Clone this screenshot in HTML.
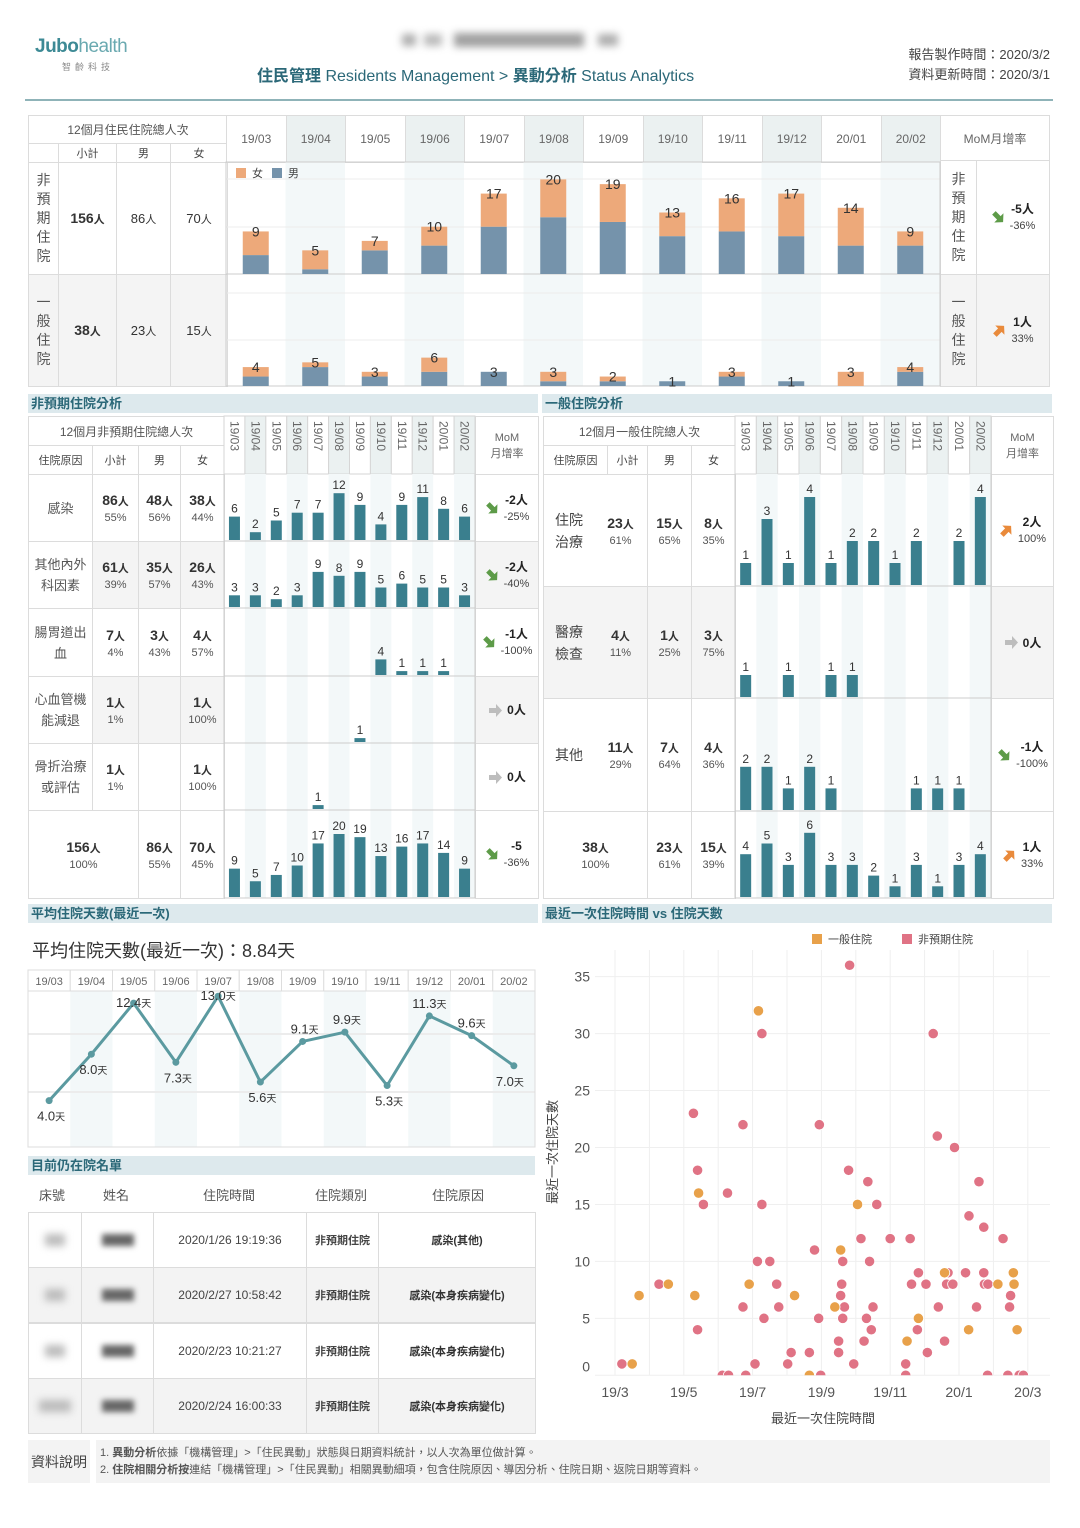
<!DOCTYPE html>
<html><head><meta charset="utf-8">
<style>
body{margin:0;width:1080px;height:1528px;position:relative;background:#fff;font-family:"Liberation Sans","Noto Sans CJK TC",sans-serif;color:#444;overflow:hidden}
.c{display:flex;align-items:center;justify-content:center;flex-direction:column;text-align:center;border:1px solid #dcdcdc;}
.sec{position:absolute;height:19px;background:#dde9ed;color:#2b6878;font-weight:bold;font-size:13px;line-height:19px;padding-left:3px;box-sizing:border-box}
b.v{font-size:13px;color:#333}
.p{font-size:11px;color:#555}
</style></head>
<body>
<div>
  <div style="position:absolute;left:35px;top:36px;font-size:19px;color:#3d8a95;letter-spacing:-0.5px"><b>Jubo</b><span style="font-weight:normal;color:#6aa9b0">health</span></div>
  <div style="position:absolute;left:62px;top:60px;font-size:9px;color:#888;letter-spacing:4px">智齡科技</div>
  <div style="position:absolute;left:402px;top:32px;width:224px;height:16px;filter:blur(4px);opacity:0.8">
    <div style="position:absolute;left:0;top:2px;width:14px;height:12px;background:#999"></div>
    <div style="position:absolute;left:22px;top:2px;width:18px;height:12px;background:#aaa"></div>
    <div style="position:absolute;left:52px;top:1px;width:130px;height:14px;background:#888"></div>
    <div style="position:absolute;left:196px;top:2px;width:20px;height:12px;background:#999"></div>
  </div>
  <div style="position:absolute;left:257px;top:62px;font-size:16px;color:#2b6878"><b>住民管理</b> Residents Management &gt; <b>異動分析</b> Status Analytics</div>
  <div style="position:absolute;right:30px;top:45px;font-size:13px;color:#444;text-align:right;line-height:20px">報告製作時間：2020/3/2<br>資料更新時間：2020/3/1</div>
  <div style="position:absolute;left:25px;top:99px;width:1028px;height:2px;background:#8fb3b8"></div>
</div>

<div class="sec" style="left:28px;top:394px;width:510px">非預期住院分析</div>
<div class="sec" style="left:542px;top:394px;width:510px">一般住院分析</div>
<div class="sec" style="left:28px;top:904px;width:510px">平均住院天數(最近一次)</div>
<div class="sec" style="left:542px;top:904px;width:510px">最近一次住院時間 vs 住院天數</div>
<div class="sec" style="left:28px;top:1156px;width:507px">目前仍在院名單</div>
<div style="position:absolute;left:32px;top:937px;font-size:18px;color:#333">平均住院天數(最近一次)：8.84天</div>

<div style="position:absolute;left:28px;top:1440px;width:62px;height:43px;background:#f3f3f3;font-size:14px;color:#444;display:flex;align-items:center;justify-content:center">資料說明</div>
<div style="position:absolute;left:96px;top:1440px;width:954px;height:43px;background:#f3f3f3;font-size:11px;color:#555;line-height:17px;padding:5px 4px;box-sizing:border-box">1. <b>異動分析</b>依據「機構管理」>「住民異動」狀態與日期資料統計，以人次為單位做計算。<br>2. <b>住院相關分析按</b>連結「機構管理」>「住民異動」相關異動細項，包含住院原因、導因分析、住院日期、返院日期等資料。</div>

<script>
// ===== DATA =====
const months = ['19/03','19/04','19/05','19/06','19/07','19/08','19/09','19/10','19/11','19/12','20/01','20/02'];
const topUnplanTotal = [9,5,7,10,17,20,19,13,16,17,14,9];
const topUnplanMale  = [4,1,5,6,10,12,11,8,9,8,6,6];
const topGeneralTotal = [4,5,3,6,3,3,2,1,3,1,3,4];
const topGeneralMale  = [2,4,2,3,3,1,1,1,2,1,0,3];

const upInfection = [6,2,5,7,7,12,9,4,9,11,8,6];
const upOther     = [3,3,2,3,9,8,9,5,6,5,5,3];
const upGI        = [0,0,0,0,0,0,0,4,1,1,1,0];
const upCardio    = [0,0,0,0,0,0,1,0,0,0,0,0];
const upFracture  = [0,0,0,0,1,0,0,0,0,0,0,0];
const upTotal     = [9,5,7,10,17,20,19,13,16,17,14,9];

const gTreat = [1,3,1,4,1,2,2,1,2,0,2,4];
const gExam  = [1,0,1,0,1,1,0,0,0,0,0,0];
const gOther = [2,2,1,2,1,0,0,0,1,1,1,0];
const gTotal = [4,5,3,6,3,3,2,1,3,1,3,4];

const avgDays = [4.0,8.0,12.4,7.3,13.0,5.6,9.1,9.9,5.3,11.3,9.6,7.0];

const scatterTicksX = ['19/3','19/5','19/7','19/9','19/11','20/1','20/3'];
const scatterTicksY = [0,5,10,15,20,25,30,35];
const unplanT = [0.2,1.28,2.28,2.4,2.4,2.57,3.27,3.12,3.3,3.72,3.72,3.8,4.07,4.14,4.27,4.27,4.33,4.5,4.7,4.76,5.02,5.12,5.65,5.8,5.92,5.94,5.98,6.5,6.5,6.56,6.59,6.62,6.62,6.67,6.79,6.82,6.94,7.15,7.24,7.31,7.35,7.4,7.45,7.5,7.61,8.0,8.45,8.45,8.58,8.62,8.79,8.82,9.04,9.08,9.25,9.37,9.4,9.58,9.64,9.68,9.82,9.87,10.19,10.29,10.51,10.58,10.72,10.72,10.74,10.84,10.83,11.28,11.42,11.47,11.5,11.75,11.87];
const unplanV = [1,8,23,18,4,15,16,0,0,22,6,0,1,10,30,15,5,10,8,6,1,2,2,11,5,22,0,3,2,7,8,10,5,6,18,36,1,12,3,5,17,10,4,6,15,12,1,0,12,8,4,9,8,2,30,21,6,3,8,9,8,20,9,14,6,17,13,9,8,8,0,12,0,6,7,0,0];
const generalT = [0.5,0.7,1.55,2.32,2.43,3.9,4.17,5.22,5.65,6.39,6.56,7.05,8.49,8.82,9.58,10.28,11.13,11.58,11.6,11.69];
const generalV = [1,7,8,7,16,8,32,7,0,6,11,15,3,5,9,4,8,9,8,4];

const listTimes = ['2020/1/26 19:19:36','2020/2/27 10:58:42','2020/2/23 10:21:27','2020/2/24 16:00:33'];
const listTypes = ['非預期住院','非預期住院','非預期住院','非預期住院'];
const listReasons = ['感染(其他)','感染(本身疾病變化)','感染(本身疾病變化)','感染(本身疾病變化)'];

// ===== HELPERS =====
const NS='http://www.w3.org/2000/svg';
function div(x,y,w,h,name,cls,css,html){
  const d=document.createElement('div');
  d.className=cls||'';
  d.style.cssText='position:absolute;left:'+x+'px;top:'+y+'px;width:'+w+'px;height:'+h+'px;box-sizing:border-box;'+(css||'');
  
  
  if(html!=null)d.innerHTML=html;
  document.body.appendChild(d);return d;
}
function cell(x,y,w,h,name,html,css){return div(x,y,w+1,h+1,name,'c',css,html);}
function svg(x,y,w,h,name){
  const s=document.createElementNS(NS,'svg');
  s.setAttribute('width',w);s.setAttribute('height',h);
  s.style.cssText='position:absolute;left:'+x+'px;top:'+y+'px;overflow:visible';
  
  
  document.body.appendChild(s);return s;
}
function el(p,tag,attrs,name,text){
  const e=document.createElementNS(NS,tag);
  for(const k in attrs)e.setAttribute(k,attrs[k]);
  
  
  if(text!=null)e.textContent=text;
  p.appendChild(e);return e;
}
function arrow(dir){
  const rot=dir==='down'?45:dir==='up'?-45:0;
  const col=dir==='down'?'#5d9b48':dir==='up'?'#e98a3b':'#bdbdbd';
  return '<svg width="15" height="15"><path transform="rotate('+rot+' 7.5 7.5)" d="M1,5 H8 V1 L14,7.5 L8,14 V10 H1 Z" fill="'+col+'"/></svg>';
}
function mom(a,b,dir){
  return '<div style="display:flex;align-items:center;gap:4px">'+arrow(dir)+'<div style="text-align:center;line-height:16px"><b style="font-size:12px;color:#222">'+a+'</b>'+(b?'<br><span style="font-size:11px;color:#444">'+b+'</span>':'')+'</div></div>';
}
function vt(s){return '<div style="font-size:14px;line-height:19px;color:#555">'+s.split('').join('<br>')+'</div>';}
function vp(v,p){return '<b class="v" style="font-size:14px">'+v.replace('人','<span style="font-size:11px">人</span>')+'</b>'+(p?'<span class="p" style="margin-top:3px">'+p+'</span>':'');}

// ===== TOP SECTION =====
cell(28,115,199,28,'top-summary-title','<span style="font-size:12px;color:#555">12個月住民住院總人次</span>');
cell(28,143,30,19,'top-blank-header','');
cell(58,143,58,19,'top-subtotal-header','<span style="font-size:11px">小計</span>');
cell(116,143,54,19,'top-male-header','<span style="font-size:11px">男</span>');
cell(170,143,57,19,'top-female-header','<span style="font-size:11px">女</span>');
cell(28,162,30,112,'unplanned-row-label',vt('非預期住院'));
cell(58,162,58,112,'unplanned-subtotal',vp('156人'));
cell(116,162,54,112,'unplanned-male',vp('86人').replace('<b class="v"','<b class="v" style="font-weight:normal"'));
cell(170,162,57,112,'unplanned-female',vp('70人').replace('<b class="v"','<b class="v" style="font-weight:normal"'));
cell(28,274,30,112,'general-row-label',vt('一般住院'),'background:#f4f4f4');
cell(58,274,58,112,'general-subtotal',vp('38人'),'background:#f4f4f4');
cell(116,274,54,112,'general-male',vp('23人').replace('<b class="v"','<b class="v" style="font-weight:normal"'),'background:#f4f4f4');
cell(170,274,57,112,'general-female',vp('15人').replace('<b class="v"','<b class="v" style="font-weight:normal"'),'background:#f4f4f4');
const tcw=714/12;
months.forEach(function(m,i){
  cell(226+i*tcw,115,tcw,47,'top-month-header','<span style="font-size:12px;color:#666">'+m+'</span>',i%2?'background:#ebf1f1':'background:#fff');
});
cell(940,115,109,45,'top-mom-header','<span style="font-size:12px;color:#666">MoM月增率</span>');
cell(940,160,36,114,'top-mom-unplanned-label',vt('非預期住院'));
cell(976,160,73,114,'top-mom-unplanned',mom('-5人','-36%','down'));
cell(940,274,36,112,'top-mom-general-label',vt('一般住院'),'background:#f4f4f4');
cell(976,274,73,112,'top-mom-general',mom('1人','33%','up'),'background:#f4f4f4');

(function(){
  const s=svg(226,162,714,224,'stacked-hospitalization-chart');
  const k=4.73;
  months.forEach(function(m,i){ if(i%2) el(s,'rect',{x:i*tcw,y:0,width:tcw,height:224,fill:'#f3f8f9'},'column-shade'); });
  [17,65,131,178].forEach(function(y){ el(s,'line',{x1:0,x2:714,y1:y,y2:y,stroke:'#ececec'},'gridline'); });
  el(s,'line',{x1:0,x2:714,y1:112,y2:112,stroke:'#ccc'},'row-divider');
  el(s,'rect',{x:0,y:0,width:714,height:224,fill:'none',stroke:'#ccc'},'chart-border');
  el(s,'rect',{x:10,y:6,width:10,height:10,fill:'#eda97a'},'legend-female-swatch');
  el(s,'text',{x:26,y:15,'font-size':11,fill:'#444'},'legend-female-label','女');
  el(s,'rect',{x:46,y:6,width:10,height:10,fill:'#7593ab'},'legend-male-swatch');
  el(s,'text',{x:62,y:15,'font-size':11,fill:'#444'},'legend-male-label','男');
  function draw(tot,male,base,pref){
    tot.forEach(function(t,i){
      const cx=i*tcw+tcw/2;
      el(s,'rect',{x:cx-13,y:base-male[i]*k,width:26,height:male[i]*k,fill:'#7593ab'},pref+'-male-bar');
      el(s,'rect',{x:cx-13,y:base-t*k,width:26,height:(t-male[i])*k,fill:'#eda97a'},pref+'-female-bar');
      el(s,'text',{x:cx,y:base-t*k+5,'font-size':14,'text-anchor':'middle',fill:'#333'},pref+'-total-label',String(t));
    });
  }
  draw(topUnplanTotal,topUnplanMale,112,'unplanned');
  draw(topGeneralTotal,topGeneralMale,224,'general');
})();

// ===== MIDDLE TABLES =====
function monthHeader(x,w,pref){
  const s=svg(x,416,w,58,pref+'-month-header');
  const cw=w/12;
  months.forEach(function(m,i){
    el(s,'rect',{x:i*cw,y:0,width:cw,height:58,fill:i%2?'#ebf1f1':'#fff',stroke:'#d6d6d6'},'month-header-cell');
    el(s,'text',{transform:'translate('+(i*cw+cw/2-4)+',5) rotate(90)','font-size':12,fill:'#666'},'month-header-label',m);
  });
}
function barsSvg(x,w,tops,heights,series,scales,pref){
  const H=tops[tops.length-1]+heights[heights.length-1];
  const s=svg(x,474,w,H,pref+'-bars');
  const cw=w/12;
  months.forEach(function(m,i){ if(i%2) el(s,'rect',{x:i*cw,y:0,width:cw,height:H,fill:'#f3f8f9'},'column-shade'); });
  tops.forEach(function(t,r){ el(s,'line',{x1:0,x2:w,y1:t+heights[r],y2:t+heights[r],stroke:'#ccc'},'row-divider'); });
  el(s,'line',{x1:0,x2:0,y1:0,y2:H,stroke:'#ccc'},'left-border');
  el(s,'line',{x1:w,x2:w,y1:0,y2:H,stroke:'#ccc'},'right-border');
  series.forEach(function(arr,r){
    const base=tops[r]+heights[r]-1;
    arr.forEach(function(v,i){
      if(!v)return;
      const cx=i*cw+cw/2, h=v*scales[r];
      el(s,'rect',{x:cx-5.5,y:base-h,width:11,height:h,fill:'#3a7f8e'},pref+'-bar');
      el(s,'text',{x:cx,y:base-h-4,'font-size':12,'text-anchor':'middle',fill:'#333'},pref+'-bar-label',String(v));
    });
  });
}
cell(28,416,196,29,'unplanned-table-title','<span style="font-size:12px;color:#555">12個月非預期住院總人次</span>');
cell(28,445,64,29,'reason-header','<span style="font-size:11px">住院原因</span>');
cell(92,445,46,29,'subtotal-header','<span style="font-size:11px">小計</span>');
cell(138,445,42,29,'male-header','<span style="font-size:11px">男</span>');
cell(180,445,44,29,'female-header','<span style="font-size:11px">女</span>');
cell(475,416,63,58,'mom-header','<span style="font-size:11px;color:#666;line-height:16px">MoM<br>月增率</span>');
monthHeader(224,251,'unplanned');
const upRows=[
 ['感染','86人','55%','48人','56%','38人','44%','-2人','-25%','down'],
 ['其他內外<br>科因素','61人','39%','35人','57%','26人','43%','-2人','-40%','down'],
 ['腸胃道出<br>血','7人','4%','3人','43%','4人','57%','-1人','-100%','down'],
 ['心血管機<br>能減退','1人','1%','','','1人','100%','0人','','flat'],
 ['骨折治療<br>或評估','1人','1%','','','1人','100%','0人','','flat']];
const upTops=[0,67,134,202,269,336], upH=[67,67,68,67,67,88];
upRows.forEach(function(r,i){
  const y=474+upTops[i], h=upH[i], bg=i%2?'background:#f4f4f4':'';
  cell(28,y,64,h,'unplanned-reason','<span style="font-size:13px;color:#555;line-height:21px">'+r[0]+'</span>');
  cell(92,y,46,h,'unplanned-reason-subtotal',vp(r[1],r[2]),bg);
  cell(138,y,42,h,'unplanned-reason-male',r[3]?vp(r[3],r[4]):'',bg);
  cell(180,y,44,h,'unplanned-reason-female',vp(r[5],r[6]),bg);
  cell(475,y,63,h,'unplanned-reason-mom',mom(r[7],r[8],r[9]),bg);
});
cell(28,810,110,88,'unplanned-total-subtotal',vp('156人','100%'));
cell(138,810,42,88,'unplanned-total-male',vp('86人','55%'));
cell(180,810,44,88,'unplanned-total-female',vp('70人','45%'));
cell(475,810,63,88,'unplanned-total-mom',mom('-5','-36%','down'));
barsSvg(224,251,upTops,upH,[upInfection,upOther,upGI,upCardio,upFracture,upTotal],[3.9,3.9,3.9,3.9,3.9,3.15],'unplanned');

cell(543,416,192,29,'general-table-title','<span style="font-size:12px;color:#555">12個月一般住院總人次</span>');
cell(543,445,64,29,'general-reason-header','<span style="font-size:11px">住院原因</span>');
cell(607,445,40,29,'general-subtotal-header','<span style="font-size:11px">小計</span>');
cell(647,445,44,29,'general-male-header','<span style="font-size:11px">男</span>');
cell(691,445,44,29,'general-female-header','<span style="font-size:11px">女</span>');
cell(991,416,62,58,'general-mom-header','<span style="font-size:11px;color:#666;line-height:16px">MoM<br>月增率</span>');
monthHeader(735,256,'general');
const gRows=[
 ['住院<br>治療','23人','61%','15人','65%','8人','35%','2人','100%','up'],
 ['醫療<br>檢查','4人','11%','1人','25%','3人','75%','0人','','flat'],
 ['其他','11人','29%','7人','64%','4人','36%','-1人','-100%','down']];
const gTops=[0,112,224,337], gH=[112,112,113,87];
gRows.forEach(function(r,i){
  const y=474+gTops[i], h=gH[i], bg=i%2?'background:#f4f4f4':'';
  cell(543,y,104,h,'general-reason','<div style="display:flex;width:100%;align-items:center"><span style="font-size:14px;color:#444;line-height:22px;width:50px;text-align:center">'+r[0]+'</span><div style="flex:1;display:flex;flex-direction:column;align-items:center">'+vp(r[1],r[2])+'</div></div>',bg);
  cell(647,y,44,h,'general-reason-male',vp(r[3],r[4]),bg);
  cell(691,y,44,h,'general-reason-female',vp(r[5],r[6]),bg);
  cell(991,y,62,h,'general-reason-mom',mom(r[7],r[8],r[9]),bg);
});
cell(543,811,104,87,'general-total-subtotal',vp('38人','100%'));
cell(647,811,44,87,'general-total-male',vp('23人','61%'));
cell(691,811,44,87,'general-total-female',vp('15人','39%'));
cell(991,811,62,87,'general-total-mom',mom('1人','33%','up'));
barsSvg(735,256,gTops,gH,[gTreat,gExam,gOther,gTotal],[22,22,21.6,10.7],'general');

// ===== LINE CHART =====
(function(){
  const s=svg(28,970,507,177,'avg-days-line-chart');
  const cw=507/12;
  function yv(v){return 177-11.6*v;}
  function xi(i){return i*cw+cw/2;}
  months.forEach(function(m,i){
    if(i%2) el(s,'rect',{x:i*cw,y:21,width:cw,height:156,fill:'#f3f8f9'},'column-shade');
    el(s,'rect',{x:i*cw,y:0,width:cw,height:21,fill:'#fff',stroke:'#ddd'},'month-header-cell');
    el(s,'text',{x:xi(i),y:15,'font-size':11,'text-anchor':'middle',fill:'#666'},'month-label',m);
  });
  [64,122].forEach(function(y){el(s,'line',{x1:0,x2:507,y1:y,y2:y,stroke:'#ececec','stroke-width':2},'gridline');});
  el(s,'rect',{x:0,y:0,width:507,height:177,fill:'none',stroke:'#ddd'},'chart-border');
  const lblDy=[20,20,4,20,4,20,-8,-8,20,-8,-8,20];
  const lblDx=[2,2,0,2,0,2,2,2,2,0,0,-4];
  let d='';
  avgDays.forEach(function(v,i){d+=(i?'L':'M')+xi(i)+','+yv(v);});
  el(s,'path',{d:d,fill:'none',stroke:'#5b9aa0','stroke-width':3,'stroke-linejoin':'round'},'avg-days-line');
  avgDays.forEach(function(v,i){
    el(s,'circle',{cx:xi(i),cy:yv(v),r:3.5,fill:'#5b9aa0'},'avg-days-point');
    const t=el(s,'text',{x:xi(i)+lblDx[i],y:yv(v)+lblDy[i],'font-size':13,'text-anchor':'middle',fill:'#333'},'avg-days-label',v.toFixed(1));
    const sp=document.createElementNS(NS,'tspan');sp.setAttribute('font-size','10');sp.textContent='天';
    
    
    t.appendChild(sp);
  });
})();

// ===== INPATIENT LIST =====
[['床號',52],['姓名',116],['住院時間',229],['住院類別',341],['住院原因',458]].forEach(function(h){
  div(h[1]-40,1185,80,20,'list-column-header','','font-size:13px;color:#555;text-align:center',h[0]);
});
listTimes.forEach(function(t,i){
  const y=1212+i*55.3, bg=i%2?'background:#f3f3f3':'background:#fff';
  cell(28,y,53,55,'bed-number','<div style="width:'+(i===3?32:20)+'px;height:12px;background:#bbb;filter:blur(4px)"></div>',bg);
  cell(81,y,72,55,'resident-name','<div style="width:32px;height:12px;background:#666;filter:blur(3px)"></div>',bg);
  cell(153,y,153,55,'admission-time','<span style="font-size:12px;color:#444">'+t+'</span>',bg);
  cell(306,y,72,55,'admission-type','<b style="font-size:11px;color:#444">'+listTypes[i]+'</b>',bg);
  cell(378,y,157,55,'admission-reason','<b style="font-size:11px;color:#333">'+listReasons[i]+'</b>',bg);
});

// ===== SCATTER =====
(function(){
  const s=svg(540,920,540,520,'scatter-chart');
  function xs(t){return 75+t*34.4;}
  function ys(v){return 455.3-11.39*v;}
  const cp=el(s,'clipPath',{id:'clipSc'},'clip');
  el(cp,'rect',{x:55,y:20,width:455,height:435.3},'clip-rect');
  for(let m=-1;m<=13;m++){ const x=xs(m); if(x>55&&x<510) el(s,'line',{x1:x,x2:x,y1:30,y2:455,stroke:'#efefef'},'v-gridline'); }
  scatterTicksY.forEach(function(v){
    el(s,'line',{x1:55,x2:510,y1:ys(v),y2:ys(v),stroke:'#efefef'},'h-gridline');
    el(s,'text',{x:50,y:ys(v)+(v===0?-4:5),'font-size':14,'text-anchor':'end',fill:'#555'},'y-tick-label',String(v));
  });
  scatterTicksX.forEach(function(l,i){
    el(s,'text',{x:xs(i*2),y:477,'font-size':14,'text-anchor':'middle',fill:'#555'},'x-tick-label',l);
  });
  el(s,'text',{x:283,y:503,'font-size':13,'text-anchor':'middle',fill:'#444'},'x-axis-title','最近一次住院時間');
  el(s,'text',{transform:'translate(17,232) rotate(-90)','font-size':13,'text-anchor':'middle',fill:'#444'},'y-axis-title','最近一次住院天數');
  el(s,'rect',{x:272,y:14,width:10,height:10,fill:'#e8a14a'},'legend-general-swatch');
  el(s,'text',{x:288,y:23,'font-size':11,fill:'#444'},'legend-general-label','一般住院');
  el(s,'rect',{x:362,y:14,width:10,height:10,fill:'#e07385'},'legend-unplanned-swatch');
  el(s,'text',{x:378,y:23,'font-size':11,fill:'#444'},'legend-unplanned-label','非預期住院');
  const g=el(s,'g',{'clip-path':'url(#clipSc)'},'scatter-points');
  unplanT.forEach(function(t,i){ el(g,'circle',{cx:xs(t),cy:ys(unplanV[i]),r:5.2,fill:'#e07385',stroke:'#fff','stroke-width':0.8},'unplanned-point'); });
  generalT.forEach(function(t,i){ el(g,'circle',{cx:xs(t),cy:ys(generalV[i]),r:5.2,fill:'#e8a14a',stroke:'#fff','stroke-width':0.8},'general-point'); });
})();
</script>
</body></html>
